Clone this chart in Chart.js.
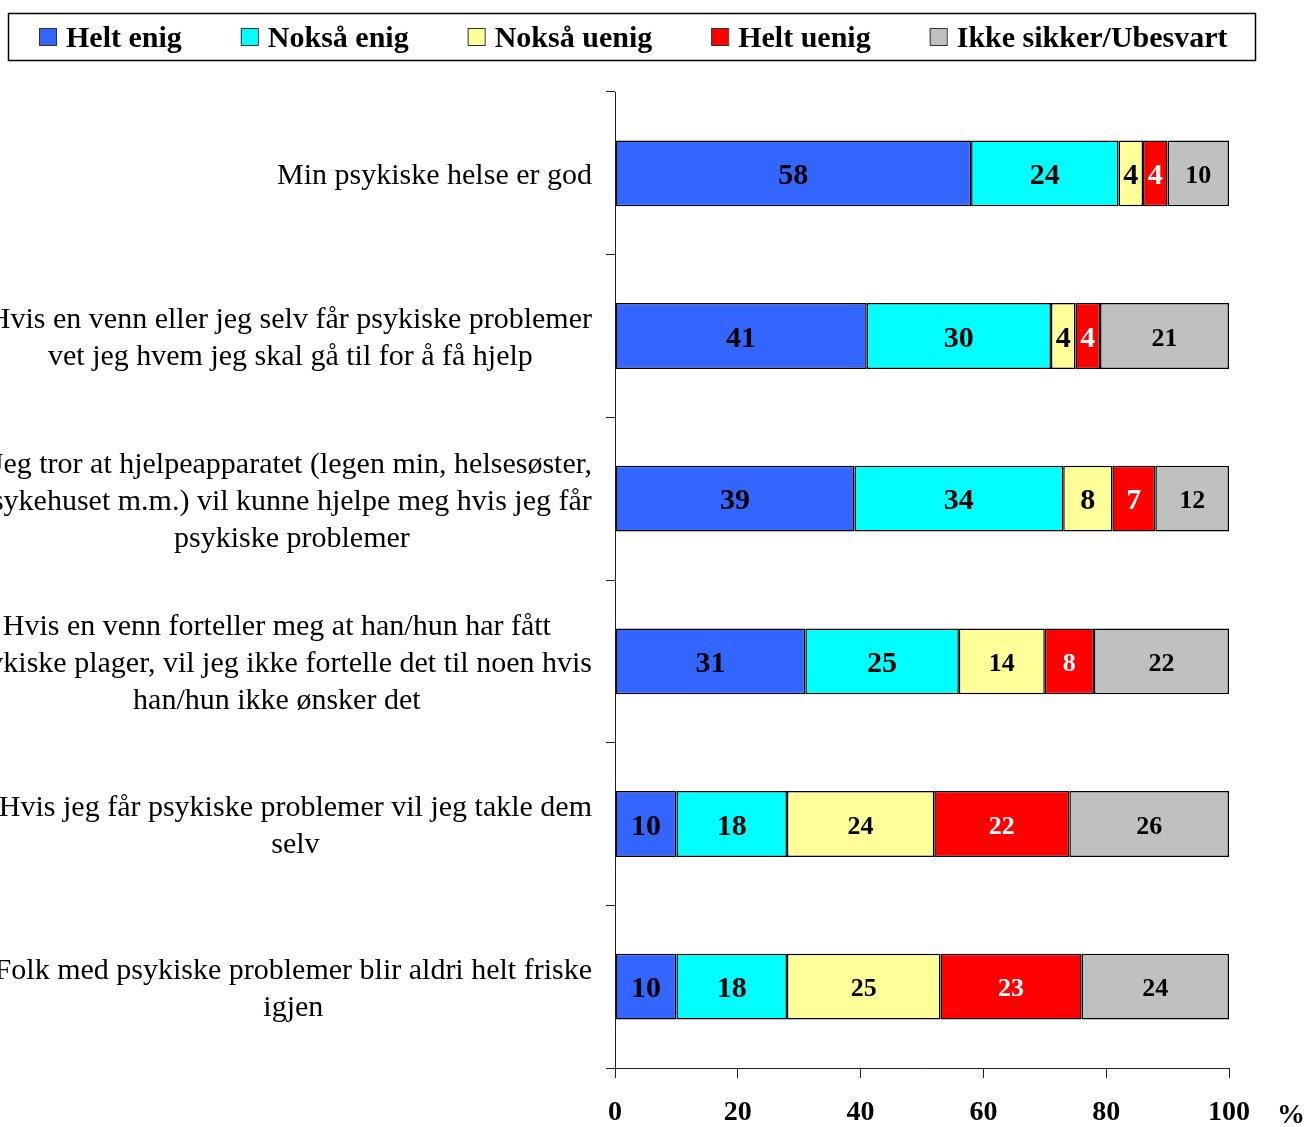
<!DOCTYPE html>
<html lang="no">
<head>
  <meta charset="UTF-8">
  <title>Psykisk helse</title>
  <script src="https://cdn.jsdelivr.net/npm/chart.js"></script>
  <style>
    body { margin: 0; background: #fff; }
    #wrap { width: 1307px; height: 1127px; }
  </style>
</head>
<body>
  <div id="wrap"><canvas id="chart"></canvas></div>

  <script>
    const SERIF = '"Liberation Serif", "Times New Roman", serif';

    // category labels, one array of lines per bar
    const categories = [
      ['Min psykiske helse er god'],
      ['Hvis en venn eller jeg selv får psykiske problemer', 'vet jeg hvem jeg skal gå til for å få hjelp'],
      ['Jeg tror at hjelpeapparatet (legen min, helsesøster,', 'sykehuset m.m.) vil kunne hjelpe meg hvis jeg får', 'psykiske problemer'],
      ['Hvis en venn forteller meg at han/hun har fått', 'psykiske plager, vil jeg ikke fortelle det til noen hvis', 'han/hun ikke ønsker det'],
      ['Hvis jeg får psykiske problemer vil jeg takle dem', 'selv'],
      ['Folk med psykiske problemer blir aldri helt friske', 'igjen']
    ];

    const seriesNames = ['Helt enig', 'Nokså enig', 'Nokså uenig', 'Helt uenig', 'Ikke sikker/Ubesvart'];
    const heltEnig   = [58, 41, 39, 31, 10, 10];
    const noksaEnig  = [24, 30, 34, 25, 18, 18];
    const noksaUenig = [4, 4, 8, 14, 24, 25];
    const heltUenig  = [4, 4, 7, 8, 22, 23];
    const ikkeSikker = [10, 21, 12, 22, 26, 24];
    const xTicks = [0, 20, 40, 60, 80, 100];

    const colors = ['#3366FF', '#00FFFF', '#FFFF99', '#FF0000', '#C0C0C0'];
    const values = [heltEnig, noksaEnig, noksaUenig, heltUenig, ikkeSikker];

    const datasets = values.map((d, i) => ({
      label: seriesNames[i],
      data: d,
      backgroundColor: colors[i],
      borderColor: '#000',
      borderWidth: 1.5,
      borderSkipped: false,
      barPercentage: 0.405,
      categoryPercentage: 1
    }));

    // category text to the left of the axis, lines centred in a right-aligned block
    const catLabels = {
      id: 'catLabels',
      afterDraw(chart) {
        const ctx = chart.ctx, y = chart.scales.y;
        ctx.save();
        ctx.font = '30px ' + SERIF;
        ctx.fillStyle = '#000';
        ctx.textAlign = 'center';
        ctx.textBaseline = 'middle';
        chart.data.labels.forEach((lines, i) => {
          const cy = y.getPixelForValue(i) + 3;
          const w = Math.max(...lines.map(l => ctx.measureText(l).width));
          const cx = chart.chartArea.left - 23 - w / 2;
          lines.forEach((l, j) => {
            ctx.fillText(l, cx, cy + (j - (lines.length - 1) / 2) * 37);
          });
        });
        // unit after the x tick labels
        ctx.font = 'bold 28px ' + SERIF;
        ctx.textAlign = 'left';
        ctx.textBaseline = 'top';
        ctx.fillText('%', 1277, 1102);
        ctx.restore();
      }
    };

    // values written inside each segment
    const barValues = {
      id: 'barValues',
      afterDatasetsDraw(chart) {
        const ctx = chart.ctx;
        ctx.save();
        ctx.textAlign = 'center';
        ctx.textBaseline = 'middle';
        chart.data.datasets.forEach((ds, di) => {
          chart.getDatasetMeta(di).data.forEach((bar, i) => {
            const small = di === 4 || (di >= 2 && i >= 3);
            ctx.font = 'bold ' + (small ? 26 : 30) + 'px ' + SERIF;
            ctx.fillStyle = di === 3 ? '#fff' : '#000';
            ctx.fillText(String(ds.data[i]), (bar.x + bar.base) / 2, bar.y + 3);
          });
        });
        ctx.restore();
      }
    };

    // boxed legend along the top
    const boxLegend = {
      id: 'boxLegend',
      afterDraw(chart) {
        const ctx = chart.ctx;
        ctx.save();
        ctx.strokeStyle = '#000';
        ctx.lineWidth = 1.5;
        ctx.strokeRect(8.5, 13.5, 1247, 47);
        ctx.font = 'bold 30px ' + SERIF;
        ctx.textBaseline = 'middle';
        ctx.textAlign = 'left';
        let x = 39;
        chart.data.datasets.forEach(ds => {
          ctx.fillStyle = ds.backgroundColor;
          ctx.fillRect(x, 28, 17, 17);
          ctx.lineWidth = 1;
          ctx.strokeStyle = '#333';
          ctx.strokeRect(x + 0.5, 28.5, 17, 17);
          ctx.fillStyle = '#000';
          ctx.fillText(ds.label, x + 27, 39);
          x += 27 + ctx.measureText(ds.label).width + 59;
        });
        ctx.restore();
      }
    };

    new Chart(document.getElementById('chart'), {
      type: 'bar',
      data: { labels: categories, datasets: datasets },
      plugins: [catLabels, barValues, boxLegend],
      options: {
        indexAxis: 'y',
        responsive: true,
        maintainAspectRatio: false,
        animation: false,
        layout: { padding: { top: 92, right: 78, left: 0, bottom: 0 } },
        plugins: {
          legend: { display: false },
          tooltip: { enabled: false }
        },
        scales: {
          x: {
            stacked: true,
            min: 0,
            max: 100,
            afterBuildTicks(scale) {
              scale.ticks = xTicks.map(v => ({ value: v }));
            },
            afterFit(scale) { scale.height = 59; },
            grid: { drawOnChartArea: false, tickLength: 10, color: '#222' },
            border: { color: '#222', width: 1 },
            ticks: {
              color: '#000',
              padding: 18,
              maxRotation: 0,
              font: { family: SERIF, size: 28, weight: 'bold' }
            }
          },
          y: {
            stacked: true,
            afterFit(scale) { scale.width = 615; },
            grid: { drawOnChartArea: false, tickLength: 9, color: '#222', offset: true },
            border: { color: '#222', width: 1 },
            ticks: { display: false }
          }
        }
      }
    });
  </script>
</body>
</html>
